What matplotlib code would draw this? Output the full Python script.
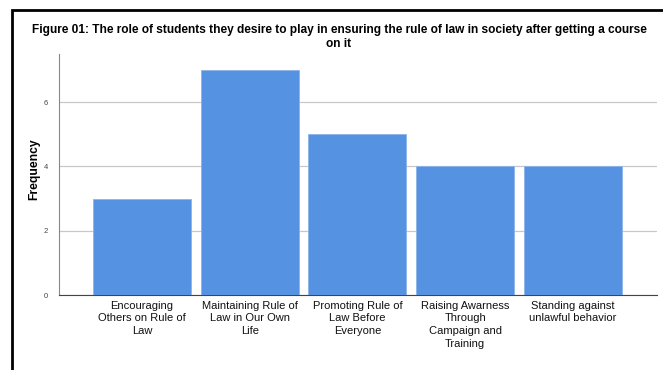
import matplotlib
matplotlib.use("Agg")
import matplotlib.pyplot as plt
from matplotlib.patches import Rectangle

categories = [
    "Encouraging\nOthers on Rule of\nLaw",
    "Maintaining Rule of\nLaw in Our Own\nLife",
    "Promoting Rule of\nLaw Before\nEveryone",
    "Raising Awarness\nThrough\nCampaign and\nTraining",
    "Standing against\nunlawful behavior",
]
frequency = [3, 7, 5, 4, 4]
yticks = [0, 2, 4, 6]

plt.rcParams["font.family"] = ["Liberation Sans", "DejaVu Sans"]

W, H = 663, 370
fig = plt.figure(figsize=(W / 100, H / 100), dpi=100)
ax = fig.add_axes([59 / W, 1 - 295 / H, (657 - 59) / W, (295 - 54) / H])

x = range(len(categories))
ax.bar(x, frequency, width=0.91, color="#5592E1", edgecolor="#8DB4EA",
       linewidth=0.6, zorder=3)
ax.set_xlim(-0.77, len(categories) - 1 + 0.78)
ax.set_ylim(0, 7.5)
ax.set_yticks(yticks)
ax.set_yticklabels([str(v) for v in yticks], fontsize=5.5, color="#444444")
ax.yaxis.grid(True, color="#C8C8C8", linewidth=0.9, zorder=0)
ax.set_xticks(list(x))
ax.set_xticklabels(categories, fontsize=8, linespacing=1.35, color="#111111")
ax.tick_params(axis="x", length=0, pad=4)
ax.tick_params(axis="y", length=0, pad=8)
for s in ["top", "right"]:
    ax.spines[s].set_visible(False)
ax.spines["left"].set_color("#888888")
ax.spines["bottom"].set_color("#444444")
ax.set_ylabel("Frequency", fontsize=8.7, fontweight="bold")
ax.yaxis.set_label_coords(-(59 - 40) / (657 - 59), 0.52)

fig.text(339 / W, 1 - 37 / H,
         "Figure 01: The role of students they desire to play in ensuring the rule of law in society after getting a course\non it",
         ha="center", va="center", fontsize=8.6, fontweight="bold", linespacing=1.25)

# outer frame
fig.patches.append(Rectangle((12 / W, -0.1), 1.2, 1 - 10 / H + 0.1,
                             transform=fig.transFigure, fill=False,
                             edgecolor="black", linewidth=2))

fig.savefig("out.png", dpi=100)
